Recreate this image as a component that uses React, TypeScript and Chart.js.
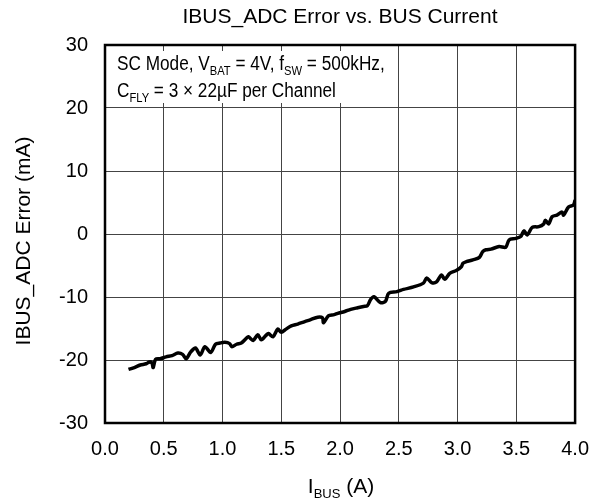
import React, { useEffect, useRef } from "react";
import { Chart, registerables } from "chart.js";

Chart.register(...registerables);

const FONT = '"Liberation Sans", Arial, Helvetica, sans-serif';

const chartTitle = "IBUS_ADC Error vs. BUS Current";
const yAxisTitle = "IBUS_ADC Error (mA)";
const xTickValues = [0, 0.5, 1.0, 1.5, 2.0, 2.5, 3.0, 3.5, 4.0];
const yTickValues = [-30, -20, -10, 0, 10, 20, 30];

// I_BUS (A)
const busCurrent = [
  0.2, 0.25, 0.3, 0.35, 0.38, 0.4, 0.41, 0.43, 0.47, 0.52, 0.57, 0.62, 0.66, 0.69,
  0.73, 0.77, 0.81, 0.85, 0.9, 0.94, 0.98, 1.02, 1.06, 1.08, 1.12, 1.16, 1.2, 1.22,
  1.26, 1.3, 1.33, 1.37, 1.39, 1.43, 1.47, 1.5, 1.54, 1.585, 1.64, 1.7, 1.75, 1.81,
  1.85, 1.86, 1.9, 1.95, 1.98, 2.04, 2.09, 2.15, 2.2, 2.232, 2.26, 2.288, 2.344,
  2.386, 2.414, 2.484, 2.54, 2.625, 2.709, 2.737, 2.779, 2.821, 2.863, 2.891, 2.933,
  2.989, 3.032, 3.046, 3.074, 3.13, 3.186, 3.214, 3.242, 3.284, 3.354, 3.41, 3.438,
  3.495, 3.537, 3.565, 3.593, 3.635, 3.691, 3.733, 3.747, 3.775, 3.804, 3.846, 3.888,
  3.902, 3.944, 3.986, 4.0,
];

// IBUS_ADC error (mA)
const adcError = [
  -21.5, -21.2, -20.8, -20.6, -20.3, -20.5, -21.2, -19.9, -19.8, -19.5, -19.3, -18.9, -19.1, -19.8,
  -18.7, -18.1, -19.2, -17.9, -18.8, -17.5, -17.3, -17.2, -17.4, -17.9, -17.5, -17.3, -16.6, -16.3,
  -16.9, -16.0, -16.8, -16.1, -15.8, -16.3, -15.1, -15.6, -15.1, -14.6, -14.3, -13.9, -13.6, -13.2,
  -13.3, -14.1, -13.0, -12.8, -12.6, -12.3, -11.96, -11.7, -11.5, -11.4, -10.4, -9.95, -10.9,
  -10.7, -9.4, -9.15, -8.8, -8.4, -7.8, -7.0, -7.7, -7.6, -6.5, -7.2, -6.25,
  -5.8, -5.2, -4.65, -4.4, -4.1, -3.7, -2.8, -2.5, -2.4, -2.0, -2.1, -0.95,
  -0.7, -0.4, 0.5, -0.16, 1.05, 1.16, 1.6, 2.2, 1.6, 2.75, 3.0, 3.5,
  3.0, 4.3, 4.6, 5.4,
];

type Seg = { t: string; sub?: boolean };

const annotationLine1: Seg[] = [
  { t: "SC Mode, V" }, { t: "BAT", sub: true }, { t: " = 4V, f" }, { t: "SW", sub: true }, { t: " = 500kHz," },
];
const annotationLine2: Seg[] = [
  { t: "C" }, { t: "FLY", sub: true }, { t: " = 3 × 22µF per Channel" },
];
const xAxisTitle: Seg[] = [{ t: "I" }, { t: "BUS", sub: true }, { t: " (A)" }];

function drawRich(
  ctx: CanvasRenderingContext2D,
  segs: Seg[],
  x: number,
  y: number,
  size: number,
  subSize: number,
  subDy: number,
  sx: number,
  align: "left" | "center"
) {
  ctx.save();
  ctx.fillStyle = "#000";
  ctx.textBaseline = "alphabetic";
  ctx.textAlign = "left";
  let total = 0;
  for (const s of segs) {
    ctx.font = `${s.sub ? subSize : size}px ${FONT}`;
    total += ctx.measureText(s.t).width;
  }
  ctx.translate(x, y);
  ctx.scale(sx, 1);
  let cx = align === "center" ? -total / 2 : 0;
  for (const s of segs) {
    ctx.font = `${s.sub ? subSize : size}px ${FONT}`;
    ctx.fillText(s.t, cx, s.sub ? subDy : 0);
    cx += ctx.measureText(s.t).width;
  }
  ctx.restore();
}

const decorPlugin = {
  id: "decor",
  beforeDatasetsDraw(chart: any) {
    const ctx = chart.ctx as CanvasRenderingContext2D;
    const a = chart.chartArea;
    ctx.save();
    ctx.fillStyle = "#fff";
    ctx.fillRect(a.left + 1, 51, 290, 52);
    ctx.restore();
    drawRich(ctx, annotationLine1, a.left + 12, 70, 20, 13, 5, 0.86, "left");
    drawRich(ctx, annotationLine2, a.left + 12, 96.5, 20, 13, 5, 0.86, "left");
  },
  afterDraw(chart: any) {
    const ctx = chart.ctx as CanvasRenderingContext2D;
    const a = chart.chartArea;
    ctx.save();
    ctx.strokeStyle = "#000";
    ctx.lineWidth = 2.5;
    ctx.strokeRect(a.left, a.top, a.right - a.left, a.bottom - a.top);
    // chart title
    ctx.fillStyle = "#000";
    ctx.font = `21px ${FONT}`;
    ctx.textAlign = "center";
    ctx.textBaseline = "alphabetic";
    ctx.fillText(chartTitle, 340, 23);
    // y axis title
    ctx.save();
    ctx.translate(30, 241);
    ctx.rotate(-Math.PI / 2);
    ctx.font = `21px ${FONT}`;
    ctx.textAlign = "center";
    ctx.fillText(yAxisTitle, 0, 0);
    ctx.restore();
    ctx.restore();
    // x axis title
    drawRich(ctx, xAxisTitle, (a.left + a.right) / 2 + 1, 493, 21, 13, 5, 1, "center");
  },
};

export default function App() {
  const ref = useRef<HTMLCanvasElement>(null);
  useEffect(() => {
    if (!ref.current) return;
    const points = busCurrent.map((x, i) => ({ x, y: adcError[i] }));
    const chart = new Chart(ref.current, {
      type: "line",
      data: {
        datasets: [
          {
            data: points,
            borderColor: "#000",
            borderWidth: 3.5,
            pointRadius: 0,
            tension: 0.3,
            fill: false,
          },
        ],
      },
      options: {
        responsive: false,
        animation: false,
        layout: { padding: { top: 45, right: 23, left: 0, bottom: 0 } },
        plugins: { legend: { display: false }, title: { display: false }, tooltip: { enabled: false } },
        scales: {
          x: {
            type: "linear",
            min: 0,
            max: 4,
            afterBuildTicks: (s: any) => {
              s.ticks = xTickValues.map((v) => ({ value: v }));
            },
            afterFit: (s: any) => {
              s.height = 80;
            },
            grid: { color: "#444", lineWidth: 1, drawTicks: false },
            border: { display: false },
            ticks: {
              color: "#000",
              padding: 14,
              font: { family: FONT, size: 20 },
              maxRotation: 0,
              callback: (v: any) => Number(v).toFixed(1),
            },
          },
          y: {
            type: "linear",
            min: -30,
            max: 30,
            afterBuildTicks: (s: any) => {
              s.ticks = yTickValues.map((v) => ({ value: v }));
            },
            afterFit: (s: any) => {
              s.width = 105;
            },
            grid: { color: "#444", lineWidth: 1, drawTicks: false },
            border: { display: false },
            ticks: {
              color: "#000",
              padding: 17,
              font: { family: FONT, size: 20 },
              callback: (v: any) => String(v),
            },
          },
        },
      },
      plugins: [decorPlugin],
    });
    return () => chart.destroy();
  }, []);
  return (
    <div style={{ position: "absolute", left: 0, top: 0, width: 603, height: 503, background: "#fff" }}>
      <canvas ref={ref} width={603} height={503} style={{ width: 603, height: 503, display: "block" }} />
    </div>
  );
}
